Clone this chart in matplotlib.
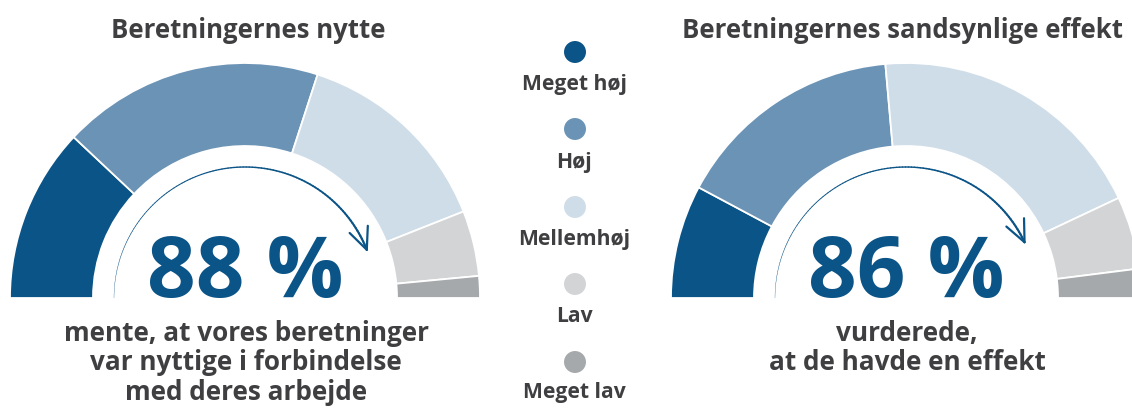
import numpy as np
import matplotlib
matplotlib.use("Agg")
import matplotlib.pyplot as plt
from matplotlib.collections import LineCollection

# ---- data ----
categories = ["Meget høj", "Høj", "Mellemhøj", "Lav", "Meget lav"]
nytte = [24, 36, 28, 9, 3]
effekt = [15.6, 31.6, 38.8, 10.0, 4.0]
titles = ["Beretningernes nytte", "Beretningernes sandsynlige effekt"]
pct_labels = ["88 %", "86 %"]
pct_values = [88, 86]
captions = [["mente, at vores beretninger", "var nyttige i forbindelse", "med deres arbejde"],
            ["vurderede,", "at de havde en effekt"]]

colors = ["#0b5487", "#6b93b5", "#cfdde9", "#d3d4d6", "#a6a9ac"]
text_col = "#3f3f41"
FONT = ["Open Sans", "DejaVu Sans"]

W, H = 1132, 408
fig = plt.figure(figsize=(W / 100, H / 100), dpi=100)
ax = fig.add_axes([0, 0, 1, 1])

centers = [(245, 110), (906, 110)]
title_x = [248, 903]
R_out, ring_w, R_arrow = 235, 83, 131

for vals, (cx, cy), title, plab, pv, cap, tx in zip(
        [nytte, effekt], centers, titles, pct_labels, pct_values, captions, title_x):
    wedges, _ = ax.pie(vals + [sum(vals)], colors=colors + ["none"], startangle=180,
                       counterclock=False, radius=R_out, center=(cx, cy), frame=True,
                       wedgeprops=dict(width=ring_w, edgecolor="white", linewidth=1.3))
    wedges[-1].set_visible(False)

    # tapered arrow arc
    th_end = 180 - 1.8 * pv
    th = np.radians(np.linspace(180, th_end, 120))
    xs = cx + R_arrow * np.cos(th)
    ys = cy + R_arrow * np.sin(th)
    pts = np.column_stack([xs, ys])
    segs = np.stack([pts[:-1], pts[1:]], axis=1)
    lws = np.linspace(0.2, 1.6, len(segs))
    ax.add_collection(LineCollection(segs, linewidths=lws, colors=colors[0],
                                     capstyle="round", zorder=3))
    t = th[-1]
    d = np.array([np.sin(t), -np.cos(t)])
    back = -d
    for ang in (24, -24):
        a = np.radians(ang)
        rot = np.array([[np.cos(a), -np.sin(a)], [np.sin(a), np.cos(a)]])
        v = rot @ back * 24
        ax.plot([xs[-1], xs[-1] + v[0]], [ys[-1], ys[-1] + v[1]], color=colors[0],
                lw=1.6, solid_capstyle="round", zorder=3)

    ax.text(cx, cy + 1, plab, ha="center", va="baseline", fontsize=61.5, fontweight="bold",
            color=colors[0], family=FONT)
    ax.text(tx, 370, title, ha="center", va="baseline", fontsize=18.5, fontweight="bold",
            color=text_col, family=FONT)
    for i, line in enumerate(cap):
        ax.text(cx + 1, 67 - i * 29.5, line, ha="center", va="baseline", fontsize=18.8,
                fontweight="bold", color=text_col, family=FONT)

# legend in the middle
leg_y = [356, 279, 201, 124, 46]
lab_y = [318, 240, 163, 86, 10]
ax.scatter([575] * len(categories), leg_y, s=250, c=colors, edgecolors="none", zorder=3)
for lab, y in zip(categories, lab_y):
    ax.text(574, y, lab, ha="center", va="baseline", fontsize=15.2, fontweight="bold",
            color=text_col, family=FONT)

ax.set_xlim(0, W)
ax.set_ylim(0, H)
ax.set_aspect("auto")
ax.axis("off")
fig.savefig("out.png", dpi=100)
